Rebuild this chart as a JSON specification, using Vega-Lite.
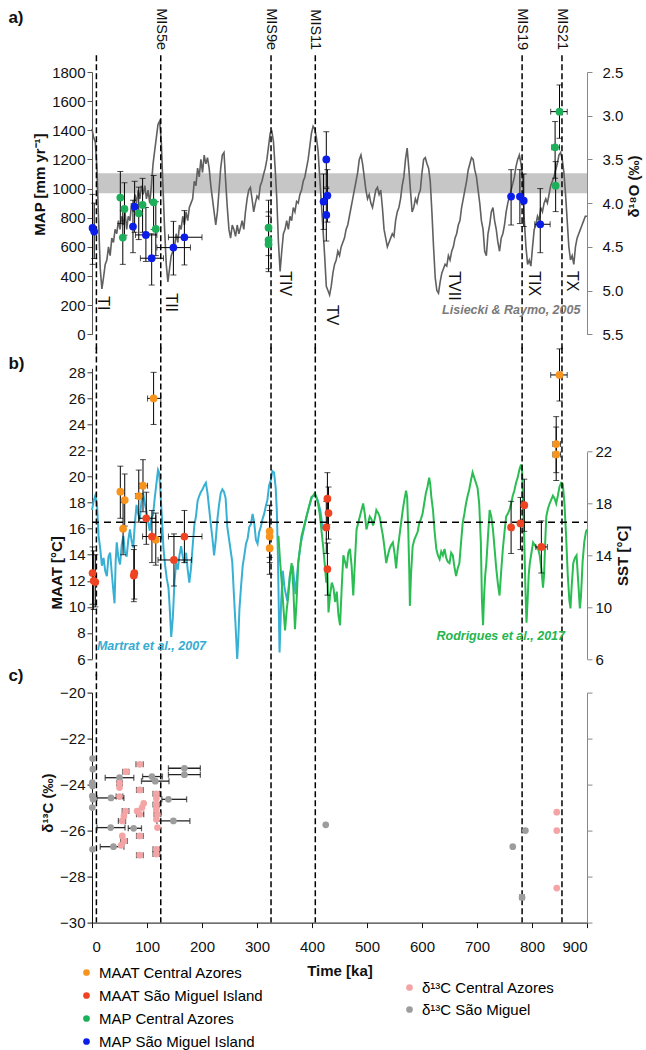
{
  "$schema": "https://vega.github.io/schema/vega-lite/v6.json",
  "padding": {"left": 8, "top": 8, "right": 5, "bottom": 5},
  "background": "white",
  "config": {
    "font": "Liberation Sans",
    "view": {"stroke": null},
    "axis": {"grid": false, "labelOverlap": false, "labelFontSize": 15, "labelColor": "#111", "titleFontSize": 15, "titleFontWeight": "bold", "titleColor": "#111", "domainColor": "#333", "tickColor": "#333", "tickSize": 5, "labelFont": "Liberation Sans", "titleFont": "Liberation Sans"},
    "text": {"font": "Liberation Sans"}
  },
  "datasets": {
    "one": [{"k": 1}],
    "terms": [{"ka": 8, "mis": ""}, {"ka": 125, "mis": "MIS5e"}, {"ka": 325.5, "mis": "MIS9e"}, {"ka": 406, "mis": "MIS11"}, {"ka": 782, "mis": "MIS19"}, {"ka": 854.5, "mis": "MIS21"}],
    "tlab": [{"ka": 19.6, "v": 261, "t": "TI"}, {"ka": 144, "v": 281, "t": "TII"}, {"ka": 351.5, "v": 432, "t": "TIV"}, {"ka": 436, "v": 201, "t": "TV"}, {"ka": 659, "v": 432, "t": "TVII"}, {"ka": 804, "v": 432, "t": "TIX"}, {"ka": 873, "v": 434, "t": "TX"}],
    "d18o": [
      {"ka":0,"d":3.15},{"ka":3,"d":3.25},{"ka":6,"d":3.3},{"ka":9,"d":3.6},{"ka":12,"d":4.2},{"ka":15,"d":4.75},{"ka":18,"d":4.98},{"ka":21,"d":4.85},{"ka":24,"d":4.7},{"ka":27,"d":4.65},
      {"ka":30,"d":4.5},{"ka":33,"d":4.6},{"ka":36,"d":4.4},{"ka":39,"d":4.45},{"ka":42,"d":4.3},{"ka":45,"d":4.35},{"ka":48,"d":4.2},{"ka":51,"d":4.3},{"ka":54,"d":4.15},{"ka":57,"d":4.25},
      {"ka":60,"d":4.1},{"ka":63,"d":4.3},{"ka":66,"d":4.15},{"ka":69,"d":4.2},{"ka":72,"d":4.0},{"ka":75,"d":4.1},{"ka":78,"d":3.9},{"ka":81,"d":4.0},{"ka":84,"d":3.85},{"ka":87,"d":3.95},
      {"ka":90,"d":3.8},{"ka":93,"d":3.9},{"ka":96,"d":3.8},{"ka":99,"d":3.95},{"ka":102,"d":3.85},{"ka":105,"d":4.0},{"ka":108,"d":3.8},{"ka":111,"d":3.55},{"ka":114,"d":3.4},{"ka":117,"d":3.25},
      {"ka":120,"d":3.1},{"ka":123,"d":3.06},{"ka":126,"d":3.3},{"ka":129,"d":3.8},{"ka":132,"d":4.3},{"ka":135,"d":4.7},{"ka":138,"d":4.9},{"ka":141,"d":4.75},{"ka":144,"d":4.6},{"ka":147,"d":4.55},
      {"ka":150,"d":4.5},{"ka":153,"d":4.35},{"ka":156,"d":4.45},{"ka":159,"d":4.25},{"ka":162,"d":4.3},{"ka":165,"d":4.15},{"ka":168,"d":4.25},{"ka":171,"d":4.1},{"ka":174,"d":4.2},{"ka":177,"d":4.05},
      {"ka":180,"d":4.0},{"ka":183,"d":3.95},{"ka":186,"d":3.75},{"ka":189,"d":3.8},{"ka":192,"d":3.6},{"ka":195,"d":3.7},{"ka":198,"d":3.5},{"ka":201,"d":3.65},{"ka":204,"d":3.45},{"ka":207,"d":3.55},
      {"ka":210,"d":3.48},{"ka":213,"d":3.6},{"ka":216,"d":3.8},{"ka":219,"d":3.95},{"ka":222,"d":4.1},{"ka":225,"d":4.25},{"ka":228,"d":4.1},{"ka":231,"d":3.85},{"ka":234,"d":3.6},{"ka":237,"d":3.45},
      {"ka":240,"d":3.42},{"ka":243,"d":3.75},{"ka":246,"d":4.05},{"ka":249,"d":4.3},{"ka":252,"d":4.4},{"ka":255,"d":4.25},{"ka":258,"d":4.3},{"ka":261,"d":4.38},{"ka":264,"d":4.25},{"ka":267,"d":4.35},
      {"ka":270,"d":4.28},{"ka":273,"d":4.2},{"ka":276,"d":4.3},{"ka":279,"d":4.1},{"ka":282,"d":3.95},{"ka":285,"d":3.85},{"ka":288,"d":3.82},{"ka":291,"d":3.95},{"ka":294,"d":4.1},{"ka":297,"d":4.0},
      {"ka":300,"d":3.92},{"ka":303,"d":3.95},{"ka":306,"d":3.8},{"ka":309,"d":3.75},{"ka":312,"d":3.67},{"ka":315,"d":3.6},{"ka":318,"d":3.5},{"ka":321,"d":3.35},{"ka":324,"d":3.2},{"ka":327,"d":3.18},
      {"ka":330,"d":3.3},{"ka":333,"d":3.6},{"ka":336,"d":3.95},{"ka":339,"d":4.45},{"ka":342,"d":4.78},{"ka":345,"d":4.55},{"ka":348,"d":4.35},{"ka":351,"d":4.3},{"ka":354,"d":4.2},{"ka":357,"d":4.3},
      {"ka":360,"d":4.15},{"ka":363,"d":4.2},{"ka":366,"d":4.05},{"ka":369,"d":4.1},{"ka":372,"d":3.98},{"ka":375,"d":4.0},{"ka":378,"d":3.9},{"ka":381,"d":3.85},{"ka":384,"d":3.75},{"ka":387,"d":3.7},
      {"ka":390,"d":3.6},{"ka":393,"d":3.5},{"ka":396,"d":3.35},{"ka":399,"d":3.2},{"ka":402,"d":3.12},{"ka":405,"d":3.15},{"ka":408,"d":3.25},{"ka":411,"d":3.4},{"ka":414,"d":3.7},{"ka":417,"d":4.0},
      {"ka":420,"d":4.3},{"ka":423,"d":4.6},{"ka":426,"d":4.95},{"ka":429,"d":5.0},{"ka":432,"d":5.05},{"ka":435,"d":4.95},{"ka":438,"d":4.8},{"ka":441,"d":4.7},{"ka":444,"d":4.65},{"ka":447,"d":4.55},
      {"ka":450,"d":4.6},{"ka":453,"d":4.5},{"ka":456,"d":4.45},{"ka":459,"d":4.4},{"ka":462,"d":4.3},{"ka":465,"d":4.25},{"ka":468,"d":4.15},{"ka":471,"d":4.05},{"ka":474,"d":3.95},{"ka":477,"d":3.85},
      {"ka":480,"d":3.75},{"ka":483,"d":3.65},{"ka":486,"d":3.5},{"ka":489,"d":3.45},{"ka":492,"d":3.55},{"ka":495,"d":3.7},{"ka":498,"d":3.85},{"ka":501,"d":3.95},{"ka":504,"d":3.9},{"ka":507,"d":4.0},
      {"ka":510,"d":4.05},{"ka":513,"d":3.95},{"ka":516,"d":3.85},{"ka":519,"d":3.82},{"ka":522,"d":3.9},{"ka":525,"d":3.85},{"ka":528,"d":4.05},{"ka":531,"d":4.3},{"ka":534,"d":4.4},{"ka":537,"d":4.5},
      {"ka":540,"d":4.45},{"ka":543,"d":4.4},{"ka":546,"d":4.35},{"ka":549,"d":4.38},{"ka":552,"d":4.2},{"ka":555,"d":4.1},{"ka":558,"d":4.05},{"ka":561,"d":3.95},{"ka":564,"d":3.8},{"ka":567,"d":3.7},
      {"ka":570,"d":3.5},{"ka":573,"d":3.37},{"ka":576,"d":3.6},{"ka":579,"d":3.85},{"ka":582,"d":4.1},{"ka":585,"d":4.05},{"ka":588,"d":3.95},{"ka":591,"d":4.0},{"ka":594,"d":3.9},{"ka":597,"d":3.85},
      {"ka":600,"d":3.65},{"ka":603,"d":3.5},{"ka":606,"d":3.48},{"ka":609,"d":3.55},{"ka":612,"d":3.6},{"ka":615,"d":3.75},{"ka":618,"d":4.1},{"ka":621,"d":4.5},{"ka":624,"d":4.85},{"ka":627,"d":5.0},
      {"ka":630,"d":5.03},{"ka":633,"d":4.9},{"ka":636,"d":4.8},{"ka":639,"d":4.75},{"ka":642,"d":4.7},{"ka":645,"d":4.72},{"ka":648,"d":4.6},{"ka":651,"d":4.65},{"ka":654,"d":4.55},{"ka":657,"d":4.5},
      {"ka":660,"d":4.4},{"ka":663,"d":4.35},{"ka":666,"d":4.25},{"ka":669,"d":4.2},{"ka":672,"d":4.05},{"ka":675,"d":3.95},{"ka":678,"d":3.85},{"ka":681,"d":3.75},{"ka":684,"d":3.62},{"ka":687,"d":3.55},
      {"ka":690,"d":3.48},{"ka":693,"d":3.5},{"ka":696,"d":3.62},{"ka":699,"d":3.7},{"ka":702,"d":3.85},{"ka":705,"d":4.0},{"ka":708,"d":4.2},{"ka":711,"d":4.3},{"ka":714,"d":4.55},{"ka":717,"d":4.6},
      {"ka":720,"d":4.35},{"ka":723,"d":4.25},{"ka":726,"d":4.1},{"ka":729,"d":4.05},{"ka":732,"d":4.2},{"ka":735,"d":4.3},{"ka":738,"d":4.45},{"ka":741,"d":4.55},{"ka":744,"d":4.4},{"ka":747,"d":4.35},
      {"ka":750,"d":4.25},{"ka":753,"d":4.1},{"ka":756,"d":4.0},{"ka":759,"d":3.92},{"ka":762,"d":3.85},{"ka":765,"d":3.78},{"ka":768,"d":3.7},{"ka":771,"d":3.58},{"ka":774,"d":3.5},{"ka":777,"d":3.45},
      {"ka":780,"d":3.55},{"ka":783,"d":3.7},{"ka":786,"d":4.2},{"ka":789,"d":4.5},{"ka":792,"d":4.7},{"ka":795,"d":4.65},{"ka":798,"d":4.72},{"ka":801,"d":4.5},{"ka":804,"d":4.3},{"ka":807,"d":4.25},
      {"ka":810,"d":4.15},{"ka":813,"d":4.2},{"ka":816,"d":4.05},{"ka":819,"d":4.1},{"ka":822,"d":4.0},{"ka":825,"d":3.95},{"ka":828,"d":4.0},{"ka":831,"d":3.9},{"ka":834,"d":3.8},{"ka":837,"d":3.75},
      {"ka":840,"d":3.7},{"ka":843,"d":3.62},{"ka":846,"d":3.55},{"ka":849,"d":3.45},{"ka":852,"d":3.42},{"ka":855,"d":3.5},{"ka":858,"d":3.65},{"ka":861,"d":3.9},{"ka":864,"d":4.2},{"ka":867,"d":4.5},
      {"ka":870,"d":4.65},{"ka":873,"d":4.6},{"ka":876,"d":4.7},{"ka":879,"d":4.5},{"ka":882,"d":4.4},{"ka":885,"d":4.35},{"ka":888,"d":4.3},{"ka":891,"d":4.25},{"ka":894,"d":4.2},{"ka":897,"d":4.15},{"ka":900,"d":4.15}
    ],
    "martrat": [
      {"ka":0,"t":17.5},{"ka":3,"t":18.2},{"ka":6,"t":18.6},{"ka":9,"t":18.0},{"ka":12,"t":15.5},{"ka":15,"t":14.5},{"ka":18,"t":13.2},{"ka":21,"t":13.8},{"ka":24,"t":12.8},{"ka":27,"t":12.4},
      {"ka":30,"t":13.9},{"ka":33,"t":14.2},{"ka":36,"t":12.6},{"ka":39,"t":11.2},{"ka":41,"t":10.3},{"ka":43,"t":13.5},{"ka":45,"t":15.0},{"ka":48,"t":13.8},{"ka":51,"t":13.3},{"ka":54,"t":14.8},
      {"ka":57,"t":15.5},{"ka":60,"t":14.2},{"ka":63,"t":13.9},{"ka":66,"t":15.2},{"ka":69,"t":16.0},{"ka":72,"t":15.1},{"ka":75,"t":14.6},{"ka":78,"t":16.5},{"ka":81,"t":17.9},{"ka":84,"t":17.2},
      {"ka":87,"t":16.8},{"ka":90,"t":18.2},{"ka":93,"t":18.8},{"ka":96,"t":18.0},{"ka":99,"t":17.4},{"ka":102,"t":16.6},{"ka":105,"t":15.9},{"ka":108,"t":16.9},{"ka":111,"t":17.1},{"ka":114,"t":18.4},
      {"ka":117,"t":19.5},{"ka":120,"t":20.6},{"ka":122,"t":20.4},{"ka":124,"t":19.2},{"ka":127,"t":17.0},{"ka":130,"t":14.5},{"ka":133,"t":13.2},{"ka":136,"t":12.2},{"ka":139,"t":11.5},{"ka":141,"t":10.2},
      {"ka":144,"t":7.7},{"ka":147,"t":9.2},{"ka":150,"t":12.0},{"ka":153,"t":13.4},{"ka":156,"t":12.9},{"ka":159,"t":14.0},{"ka":162,"t":14.7},{"ka":165,"t":13.9},{"ka":168,"t":13.4},{"ka":171,"t":14.2},
      {"ka":174,"t":12.9},{"ka":177,"t":11.9},{"ka":180,"t":13.0},{"ka":183,"t":14.7},{"ka":186,"t":16.3},{"ka":189,"t":17.0},{"ka":192,"t":18.2},{"ka":195,"t":18.6},{"ka":198,"t":18.9},{"ka":201,"t":19.1},
      {"ka":204,"t":19.4},{"ka":207,"t":19.6},{"ka":210,"t":18.8},{"ka":213,"t":17.6},{"ka":216,"t":16.4},{"ka":219,"t":15.3},{"ka":222,"t":14.0},{"ka":225,"t":15.2},{"ka":228,"t":16.8},{"ka":231,"t":17.9},
      {"ka":234,"t":18.8},{"ka":237,"t":19.1},{"ka":240,"t":18.9},{"ka":243,"t":18.4},{"ka":246,"t":16.2},{"ka":249,"t":15.3},{"ka":252,"t":14.4},{"ka":255,"t":13.5},{"ka":258,"t":11.0},{"ka":261,"t":8.6},
      {"ka":264,"t":6.0},{"ka":266,"t":7.5},{"ka":268,"t":9.8},{"ka":271,"t":11.6},{"ka":274,"t":13.2},{"ka":277,"t":14.0},{"ka":280,"t":14.9},{"ka":283,"t":15.3},{"ka":286,"t":16.2},{"ka":289,"t":16.4},
      {"ka":292,"t":17.2},{"ka":295,"t":16.5},{"ka":298,"t":15.2},{"ka":301,"t":14.9},{"ka":304,"t":15.8},{"ka":307,"t":16.2},{"ka":310,"t":16.8},{"ka":313,"t":17.2},{"ka":316,"t":17.8},{"ka":319,"t":18.3},
      {"ka":322,"t":19.4},{"ka":325,"t":19.8},{"ka":328,"t":20.5},{"ka":331,"t":20.4},{"ka":334,"t":19.2},{"ka":336,"t":17.5},{"ka":338,"t":14.0},{"ka":341,"t":6.5},{"ka":344,"t":10.5},{"ka":347,"t":12.8},
      {"ka":350,"t":11.5},{"ka":355,"t":10.5},{"ka":360,"t":12.5},{"ka":365,"t":13.2},{"ka":370,"t":11.0},{"ka":375,"t":13.5},{"ka":380,"t":15.0},{"ka":385,"t":16.0},{"ka":390,"t":17.0},{"ka":395,"t":17.8},
      {"ka":400,"t":18.5},{"ka":405,"t":18.7},{"ka":410,"t":18.3},{"ka":415,"t":17.5},{"ka":420,"t":16.0}
    ],
    "rodrigues": [
      {"ka":339,"t":15.5},{"ka":342,"t":13.5},{"ka":345,"t":11.9},{"ka":348,"t":10.0},{"ka":351,"t":8.2},{"ka":354,"t":9.8},{"ka":357,"t":10.9},{"ka":360,"t":12.5},{"ka":363,"t":13.4},{"ka":366,"t":11.5},
      {"ka":369,"t":8.3},{"ka":372,"t":10.5},{"ka":375,"t":13.4},{"ka":378,"t":14.5},{"ka":381,"t":15.5},{"ka":384,"t":16.0},{"ka":387,"t":16.5},{"ka":390,"t":17.0},{"ka":393,"t":17.5},{"ka":396,"t":18.0},
      {"ka":399,"t":18.5},{"ka":402,"t":18.6},{"ka":405,"t":18.8},{"ka":408,"t":18.5},{"ka":411,"t":18.0},{"ka":414,"t":17.2},{"ka":417,"t":16.0},{"ka":420,"t":14.8},{"ka":423,"t":13.4},{"ka":426,"t":11.9},
      {"ka":428,"t":12.8},{"ka":430,"t":9.6},{"ka":433,"t":11.0},{"ka":436,"t":11.9},{"ka":439,"t":11.5},{"ka":442,"t":10.4},{"ka":445,"t":11.2},{"ka":448,"t":9.4},{"ka":451,"t":8.6},{"ka":454,"t":11.5},
      {"ka":457,"t":14.0},{"ka":460,"t":13.5},{"ka":463,"t":13.0},{"ka":466,"t":14.2},{"ka":469,"t":14.5},{"ka":472,"t":13.2},{"ka":475,"t":10.9},{"ka":478,"t":13.5},{"ka":481,"t":16.0},{"ka":484,"t":16.5},
      {"ka":487,"t":17.0},{"ka":490,"t":17.5},{"ka":493,"t":18.0},{"ka":496,"t":17.2},{"ka":499,"t":16.0},{"ka":502,"t":16.5},{"ka":505,"t":17.0},{"ka":508,"t":16.8},{"ka":511,"t":16.3},{"ka":514,"t":16.8},
      {"ka":517,"t":17.5},{"ka":520,"t":17.3},{"ka":523,"t":17.0},{"ka":526,"t":16.2},{"ka":529,"t":15.5},{"ka":532,"t":14.5},{"ka":535,"t":13.4},{"ka":538,"t":14.0},{"ka":541,"t":14.5},{"ka":544,"t":14.8},
      {"ka":547,"t":15.0},{"ka":550,"t":14.2},{"ka":553,"t":13.0},{"ka":556,"t":14.5},{"ka":559,"t":15.5},{"ka":562,"t":16.5},{"ka":565,"t":17.5},{"ka":568,"t":18.3},{"ka":571,"t":19.0},{"ka":573,"t":18.5},
      {"ka":575,"t":16.0},{"ka":577,"t":12.5},{"ka":578,"t":10.1},{"ka":580,"t":12.5},{"ka":583,"t":14.7},{"ka":586,"t":15.2},{"ka":589,"t":15.5},{"ka":592,"t":15.8},{"ka":595,"t":16.5},{"ka":598,"t":16.8},
      {"ka":601,"t":17.2},{"ka":604,"t":18.0},{"ka":607,"t":18.8},{"ka":610,"t":19.3},{"ka":613,"t":20.0},{"ka":615,"t":19.5},{"ka":617,"t":18.5},{"ka":620,"t":17.5},{"ka":623,"t":15.8},{"ka":626,"t":14.5},
      {"ka":629,"t":14.0},{"ka":632,"t":13.7},{"ka":635,"t":14.3},{"ka":638,"t":14.0},{"ka":641,"t":14.5},{"ka":644,"t":13.8},{"ka":647,"t":13.5},{"ka":650,"t":13.4},{"ka":653,"t":14.2},{"ka":656,"t":14.0},
      {"ka":659,"t":13.1},{"ka":662,"t":12.4},{"ka":665,"t":13.0},{"ka":668,"t":13.4},{"ka":671,"t":15.0},{"ka":674,"t":16.5},{"ka":677,"t":17.2},{"ka":680,"t":18.0},{"ka":683,"t":18.6},{"ka":686,"t":19.1},
      {"ka":689,"t":19.8},{"ka":692,"t":20.4},{"ka":695,"t":20.0},{"ka":698,"t":19.6},{"ka":701,"t":19.2},{"ka":704,"t":18.0},{"ka":707,"t":15.0},{"ka":709,"t":10.5},{"ka":711,"t":8.6},{"ka":713,"t":11.0},
      {"ka":715,"t":12.5},{"ka":717,"t":13.4},{"ka":720,"t":15.5},{"ka":723,"t":17.5},{"ka":726,"t":17.0},{"ka":729,"t":16.0},{"ka":732,"t":14.5},{"ka":735,"t":13.0},{"ka":738,"t":11.8},{"ka":741,"t":10.9},
      {"ka":744,"t":12.8},{"ka":747,"t":14.5},{"ka":750,"t":15.8},{"ka":753,"t":17.0},{"ka":756,"t":17.2},{"ka":759,"t":17.5},{"ka":762,"t":18.0},{"ka":765,"t":18.6},{"ka":768,"t":19.0},{"ka":771,"t":19.6},
      {"ka":774,"t":20.0},{"ka":777,"t":20.6},{"ka":780,"t":21.0},{"ka":782,"t":20.5},{"ka":784,"t":18.0},{"ka":786,"t":15.0},{"ka":788,"t":11.5},{"ka":790,"t":8.8},{"ka":792,"t":10.5},{"ka":794,"t":12.5},
      {"ka":796,"t":13.4},{"ka":799,"t":14.2},{"ka":802,"t":15.0},{"ka":805,"t":14.8},{"ka":808,"t":14.6},{"ka":811,"t":14.5},{"ka":814,"t":14.0},{"ka":817,"t":13.0},{"ka":820,"t":11.5},{"ka":822,"t":12.5},
      {"ka":824,"t":15.0},{"ka":826,"t":17.0},{"ka":829,"t":17.6},{"ka":832,"t":18.0},{"ka":835,"t":18.3},{"ka":838,"t":18.6},{"ka":841,"t":18.4},{"ka":844,"t":18.0},{"ka":847,"t":18.6},{"ka":850,"t":19.3},
      {"ka":853,"t":19.6},{"ka":856,"t":19.5},{"ka":859,"t":18.0},{"ka":862,"t":15.5},{"ka":865,"t":12.5},{"ka":868,"t":10.5},{"ka":870,"t":9.9},{"ka":872,"t":11.5},{"ka":875,"t":13.4},{"ka":878,"t":13.8},
      {"ka":881,"t":14.0},{"ka":884,"t":12.0},{"ka":887,"t":9.9},{"ka":889,"t":10.8},{"ka":892,"t":13.5},{"ka":895,"t":15.0},{"ka":898,"t":15.8},{"ka":900,"t":16.0}
    ],
    "map": [
      {"s":"MAP São Miguel Island","ka":1,"v":730,"lo":480,"hi":960,"xlo":null,"xhi":null},
      {"s":"MAP São Miguel Island","ka":4,"v":705,"lo":520,"hi":900,"xlo":null,"xhi":null},
      {"s":"MAP São Miguel Island","ka":77.5,"v":876,"lo":700,"hi":1050,"xlo":null,"xhi":null},
      {"s":"MAP São Miguel Island","ka":74.5,"v":739,"lo":560,"hi":920,"xlo":null,"xhi":null},
      {"s":"MAP São Miguel Island","ka":98,"v":682,"lo":500,"hi":870,"xlo":79,"xhi":118},
      {"s":"MAP São Miguel Island","ka":108.5,"v":522,"lo":338,"hi":690,"xlo":88,"xhi":130},
      {"s":"MAP São Miguel Island","ka":148,"v":595,"lo":407,"hi":775,"xlo":118,"xhi":179},
      {"s":"MAP São Miguel Island","ka":168,"v":666,"lo":476,"hi":849,"xlo":139,"xhi":200},
      {"s":"MAP São Miguel Island","ka":421,"v":911,"lo":720,"hi":1100,"xlo":null,"xhi":null},
      {"s":"MAP São Miguel Island","ka":426,"v":1200,"lo":1010,"hi":1390,"xlo":null,"xhi":null},
      {"s":"MAP São Miguel Island","ka":428,"v":952,"lo":770,"hi":1130,"xlo":null,"xhi":null},
      {"s":"MAP São Miguel Island","ka":426,"v":819,"lo":640,"hi":1000,"xlo":null,"xhi":null},
      {"s":"MAP São Miguel Island","ka":762,"v":945,"lo":750,"hi":1130,"xlo":null,"xhi":null},
      {"s":"MAP São Miguel Island","ka":778,"v":945,"lo":760,"hi":1130,"xlo":null,"xhi":null},
      {"s":"MAP São Miguel Island","ka":785,"v":917,"lo":740,"hi":1100,"xlo":null,"xhi":null},
      {"s":"MAP São Miguel Island","ka":815,"v":755,"lo":560,"hi":1000,"xlo":805,"xhi":833},
      {"s":"MAP Central Azores","ka":51.5,"v":938,"lo":760,"hi":1117,"xlo":null,"xhi":null},
      {"s":"MAP Central Azores","ka":59,"v":860,"lo":680,"hi":1040,"xlo":null,"xhi":null},
      {"s":"MAP Central Azores","ka":56,"v":664,"lo":480,"hi":850,"xlo":null,"xhi":null},
      {"s":"MAP Central Azores","ka":92,"v":888,"lo":700,"hi":1070,"xlo":null,"xhi":null},
      {"s":"MAP Central Azores","ka":85,"v":830,"lo":650,"hi":1010,"xlo":null,"xhi":null},
      {"s":"MAP Central Azores","ka":112,"v":906,"lo":720,"hi":1090,"xlo":null,"xhi":null},
      {"s":"MAP Central Azores","ka":116,"v":723,"lo":540,"hi":910,"xlo":null,"xhi":null},
      {"s":"MAP Central Azores","ka":321,"v":732,"lo":540,"hi":920,"xlo":null,"xhi":null},
      {"s":"MAP Central Azores","ka":321,"v":647,"lo":450,"hi":840,"xlo":null,"xhi":null},
      {"s":"MAP Central Azores","ka":321,"v":618,"lo":430,"hi":810,"xlo":null,"xhi":null},
      {"s":"MAP Central Azores","ka":850,"v":1528,"lo":1345,"hi":1711,"xlo":834,"xhi":864},
      {"s":"MAP Central Azores","ka":842,"v":1283,"lo":1071,"hi":1460,"xlo":836,"xhi":850},
      {"s":"MAP Central Azores","ka":843,"v":1020,"lo":842,"hi":1185,"xlo":null,"xhi":null}
    ],
    "maat": [
      {"s":"MAAT Central Azores","ka":112,"v":26.0,"lo":24.0,"hi":28.0,"xlo":101,"xhi":125},
      {"s":"MAAT Central Azores","ka":51.5,"v":18.84,"lo":16.8,"hi":20.8,"xlo":null,"xhi":null},
      {"s":"MAAT Central Azores","ka":59.5,"v":18.2,"lo":16.2,"hi":20.2,"xlo":null,"xhi":null},
      {"s":"MAAT Central Azores","ka":56.5,"v":16.0,"lo":14.0,"hi":18.0,"xlo":null,"xhi":null},
      {"s":"MAAT Central Azores","ka":85,"v":18.5,"lo":16.5,"hi":20.5,"xlo":79,"xhi":91},
      {"s":"MAAT Central Azores","ka":92.7,"v":19.3,"lo":17.3,"hi":21.3,"xlo":86,"xhi":101},
      {"s":"MAAT Central Azores","ka":116,"v":15.16,"lo":13.2,"hi":17.2,"xlo":null,"xhi":null},
      {"s":"MAAT Central Azores","ka":323,"v":15.8,"lo":13.8,"hi":17.8,"xlo":null,"xhi":null},
      {"s":"MAAT Central Azores","ka":323,"v":15.4,"lo":13.4,"hi":17.4,"xlo":null,"xhi":null},
      {"s":"MAAT Central Azores","ka":323,"v":14.5,"lo":12.5,"hi":16.5,"xlo":null,"xhi":null},
      {"s":"MAAT Central Azores","ka":850,"v":27.8,"lo":25.8,"hi":29.8,"xlo":834,"xhi":864},
      {"s":"MAAT Central Azores","ka":844,"v":22.5,"lo":20.3,"hi":24.6,"xlo":838,"xhi":852},
      {"s":"MAAT Central Azores","ka":844,"v":21.7,"lo":19.7,"hi":23.8,"xlo":838,"xhi":852},
      {"s":"MAAT São Miguel Island","ka":1,"v":12.6,"lo":10.2,"hi":14.6,"xlo":null,"xhi":null},
      {"s":"MAAT São Miguel Island","ka":3,"v":12.0,"lo":9.8,"hi":14.3,"xlo":null,"xhi":null},
      {"s":"MAAT São Miguel Island","ka":6,"v":11.9,"lo":10.0,"hi":14.0,"xlo":null,"xhi":null},
      {"s":"MAAT São Miguel Island","ka":77,"v":12.6,"lo":10.6,"hi":14.7,"xlo":null,"xhi":null},
      {"s":"MAAT São Miguel Island","ka":76,"v":12.4,"lo":10.4,"hi":14.4,"xlo":null,"xhi":null},
      {"s":"MAAT São Miguel Island","ka":98.7,"v":16.8,"lo":14.8,"hi":18.8,"xlo":86,"xhi":116},
      {"s":"MAAT São Miguel Island","ka":109,"v":15.4,"lo":13.4,"hi":17.4,"xlo":92,"xhi":126},
      {"s":"MAAT São Miguel Island","ka":149,"v":13.6,"lo":11.6,"hi":15.6,"xlo":120,"xhi":181},
      {"s":"MAAT São Miguel Island","ka":168,"v":15.4,"lo":13.4,"hi":17.4,"xlo":139,"xhi":200},
      {"s":"MAAT São Miguel Island","ka":428,"v":18.3,"lo":16.3,"hi":20.3,"xlo":null,"xhi":null},
      {"s":"MAAT São Miguel Island","ka":430,"v":17.2,"lo":15.2,"hi":19.2,"xlo":null,"xhi":null},
      {"s":"MAAT São Miguel Island","ka":426,"v":16.1,"lo":14.1,"hi":18.1,"xlo":null,"xhi":null},
      {"s":"MAAT São Miguel Island","ka":428,"v":12.9,"lo":10.9,"hi":14.9,"xlo":null,"xhi":null},
      {"s":"MAAT São Miguel Island","ka":762,"v":16.1,"lo":14.1,"hi":18.1,"xlo":null,"xhi":null},
      {"s":"MAAT São Miguel Island","ka":779,"v":16.4,"lo":14.4,"hi":18.4,"xlo":null,"xhi":null},
      {"s":"MAAT São Miguel Island","ka":786,"v":17.8,"lo":15.8,"hi":19.8,"xlo":null,"xhi":null},
      {"s":"MAAT São Miguel Island","ka":817,"v":14.6,"lo":12.6,"hi":16.6,"xlo":807,"xhi":828}
    ],
    "d13c": [
      {"s":"δ¹³C São Miguel","ka":1,"v":-22.87,"xlo":null,"xhi":null},
      {"s":"δ¹³C São Miguel","ka":1.5,"v":-23.33,"xlo":null,"xhi":null},
      {"s":"δ¹³C São Miguel","ka":0.5,"v":-23.91,"xlo":null,"xhi":null},
      {"s":"δ¹³C São Miguel","ka":1,"v":-24.06,"xlo":null,"xhi":null},
      {"s":"δ¹³C São Miguel","ka":0.5,"v":-24.5,"xlo":null,"xhi":null},
      {"s":"δ¹³C São Miguel","ka":2,"v":-24.64,"xlo":null,"xhi":null},
      {"s":"δ¹³C São Miguel","ka":0.5,"v":-25.0,"xlo":null,"xhi":null},
      {"s":"δ¹³C São Miguel","ka":1,"v":-26.81,"xlo":null,"xhi":null},
      {"s":"δ¹³C São Miguel","ka":50,"v":-23.7,"xlo":24,"xhi":76},
      {"s":"δ¹³C São Miguel","ka":34.5,"v":-24.58,"xlo":9,"xhi":58},
      {"s":"δ¹³C São Miguel","ka":34,"v":-25.87,"xlo":9,"xhi":60},
      {"s":"δ¹³C São Miguel","ka":39,"v":-26.7,"xlo":15,"xhi":58},
      {"s":"δ¹³C São Miguel","ka":75.7,"v":-25.9,"xlo":66,"xhi":90},
      {"s":"δ¹³C São Miguel","ka":109,"v":-23.65,"xlo":92,"xhi":128},
      {"s":"δ¹³C São Miguel","ka":115,"v":-23.85,"xlo":90,"xhi":140},
      {"s":"δ¹³C São Miguel","ka":139,"v":-24.64,"xlo":127,"xhi":172},
      {"s":"δ¹³C São Miguel","ka":148,"v":-25.58,"xlo":118,"xhi":178},
      {"s":"δ¹³C São Miguel","ka":168,"v":-23.29,"xlo":139,"xhi":197},
      {"s":"δ¹³C São Miguel","ka":168,"v":-23.57,"xlo":139,"xhi":197},
      {"s":"δ¹³C São Miguel","ka":425,"v":-25.75,"xlo":null,"xhi":null},
      {"s":"δ¹³C São Miguel","ka":765,"v":-26.7,"xlo":null,"xhi":null},
      {"s":"δ¹³C São Miguel","ka":788,"v":-26.0,"xlo":null,"xhi":null},
      {"s":"δ¹³C São Miguel","ka":782,"v":-28.9,"xlo":778,"xhi":786},
      {"s":"δ¹³C Central Azores","ka":86.7,"v":-23.12,"xlo":80,"xhi":93},
      {"s":"δ¹³C Central Azores","ka":61.8,"v":-23.44,"xlo":56,"xhi":67},
      {"s":"δ¹³C Central Azores","ka":50,"v":-23.94,"xlo":45,"xhi":55},
      {"s":"δ¹³C Central Azores","ka":50,"v":-24.13,"xlo":null,"xhi":null},
      {"s":"δ¹³C Central Azores","ka":50,"v":-24.52,"xlo":44,"xhi":56},
      {"s":"δ¹³C Central Azores","ka":86.7,"v":-24.23,"xlo":81,"xhi":93},
      {"s":"δ¹³C Central Azores","ka":94,"v":-24.81,"xlo":null,"xhi":null},
      {"s":"δ¹³C Central Azores","ka":91,"v":-25.0,"xlo":null,"xhi":null},
      {"s":"δ¹³C Central Azores","ka":87,"v":-25.29,"xlo":81,"xhi":94},
      {"s":"δ¹³C Central Azores","ka":82,"v":-25.15,"xlo":null,"xhi":null},
      {"s":"δ¹³C Central Azores","ka":61,"v":-25.15,"xlo":55,"xhi":67},
      {"s":"δ¹³C Central Azores","ka":58,"v":-25.36,"xlo":null,"xhi":null},
      {"s":"δ¹³C Central Azores","ka":55,"v":-25.58,"xlo":48,"xhi":61},
      {"s":"δ¹³C Central Azores","ka":55,"v":-26.23,"xlo":null,"xhi":null},
      {"s":"δ¹³C Central Azores","ka":58,"v":-26.45,"xlo":52,"xhi":64},
      {"s":"δ¹³C Central Azores","ka":53,"v":-26.64,"xlo":null,"xhi":null},
      {"s":"δ¹³C Central Azores","ka":86.7,"v":-26.23,"xlo":81,"xhi":93},
      {"s":"δ¹³C Central Azores","ka":86.7,"v":-27.07,"xlo":81,"xhi":93},
      {"s":"δ¹³C Central Azores","ka":117,"v":-24.4,"xlo":111,"xhi":123},
      {"s":"δ¹³C Central Azores","ka":117,"v":-24.6,"xlo":null,"xhi":null},
      {"s":"δ¹³C Central Azores","ka":117,"v":-24.86,"xlo":111,"xhi":123},
      {"s":"δ¹³C Central Azores","ka":117,"v":-25.07,"xlo":null,"xhi":null},
      {"s":"δ¹³C Central Azores","ka":119,"v":-25.29,"xlo":113,"xhi":125},
      {"s":"δ¹³C Central Azores","ka":117,"v":-25.51,"xlo":null,"xhi":null},
      {"s":"δ¹³C Central Azores","ka":119,"v":-25.87,"xlo":null,"xhi":null},
      {"s":"δ¹³C Central Azores","ka":117,"v":-26.81,"xlo":111,"xhi":123},
      {"s":"δ¹³C Central Azores","ka":117,"v":-27.02,"xlo":111,"xhi":123},
      {"s":"δ¹³C Central Azores","ka":845,"v":-25.2,"xlo":null,"xhi":null},
      {"s":"δ¹³C Central Azores","ka":845,"v":-26.0,"xlo":null,"xhi":null},
      {"s":"δ¹³C Central Azores","ka":845,"v":-28.5,"xlo":null,"xhi":null}
    ]
  },
  "spacing": 33.3,
  "bounds": "flush",
  "vconcat": [
    {
      "width": 495,
      "height": 262.3,
      "resolve": {"scale": {"y": "independent"}},
      "layer": [
        {
          "data": {"name": "one"},
          "mark": {"type": "rect", "color": "#c6c6c6"},
          "encoding": {
            "x": {"datum": 8, "type": "quantitative", "scale": {"domain": [0, 900]}, "axis": null},
            "x2": {"datum": 900},
            "y": {"datum": 968, "type": "quantitative", "scale": {"domain": [0, 1800], "nice": false, "zero": false},
              "axis": {"orient": "left", "values": [0, 200, 400, 600, 800, 1000, 1200, 1400, 1600, 1800], "format": "d", "labelOverlap": false, "title": "MAP [mm yr⁻¹]", "titleY": 112, "domainColor": "#555", "tickColor": "#555"}},
            "y2": {"datum": 1105}
          }
        },
        {
          "data": {"name": "d18o"},
          "mark": {"type": "line", "color": "#606060", "strokeWidth": 1.6},
          "encoding": {
            "x": {"field": "ka", "type": "quantitative", "scale": {"domain": [0, 900]}, "axis": null},
            "y": {"field": "d", "type": "quantitative", "scale": {"domain": [2.5, 5.5], "reverse": true, "nice": false, "zero": false},
              "axis": {"orient": "right", "values": [2.5, 3, 3.5, 4, 4.5, 5, 5.5], "format": ".1f", "labelOverlap": false, "title": "δ¹⁸O (‰)", "titleAngle": 270, "titleBaseline": "top", "titleY": 114, "titlePadding": 4, "labelPadding": 10, "domainColor": "#888", "tickColor": "#888"}}
          }
        },
        {
          "layer": [
            {
              "data": {"name": "terms"},
              "mark": {"type": "rule", "color": "black", "strokeWidth": 1.5, "strokeDash": [6, 3]},
              "encoding": {
                "x": {"field": "ka", "type": "quantitative", "scale": {"domain": [0, 900]}, "axis": null},
                "y": {"datum": 1915, "type": "quantitative", "scale": {"domain": [0, 1800], "nice": false, "zero": false}, "axis": null},
                "y2": {"datum": -130}
              }
            },
            {
              "data": {"name": "terms"},
              "transform": [{"filter": "datum.mis != ''"}],
              "mark": {"type": "text", "angle": 90, "align": "right", "baseline": "middle", "fontSize": 14.5, "color": "#111"},
              "encoding": {
                "x": {"field": "ka", "type": "quantitative", "axis": null},
                "y": {"datum": 1950, "type": "quantitative", "axis": null},
                "text": {"field": "mis"}
              }
            },
            {
              "data": {"name": "tlab"},
              "mark": {"type": "text", "angle": 90, "align": "left", "baseline": "middle", "fontSize": 16, "color": "#111"},
              "encoding": {
                "x": {"field": "ka", "type": "quantitative", "axis": null},
                "y": {"field": "v", "type": "quantitative", "axis": null},
                "text": {"field": "t"}
              }
            },
            {
              "data": {"name": "one"},
              "mark": {"type": "text", "text": "Lisiecki & Raymo, 2005", "align": "right", "baseline": "alphabetic", "fontSize": 12.5, "fontStyle": "italic", "fontWeight": "bold", "color": "#7a7a7a"},
              "encoding": {
                "x": {"datum": 888, "type": "quantitative", "axis": null},
                "y": {"datum": 137, "type": "quantitative", "axis": null}
              }
            },
            {
              "data": {"name": "one"},
              "mark": {"type": "text", "text": "a)", "align": "left", "baseline": "middle", "fontSize": 17, "fontWeight": "bold", "color": "#111"},
              "encoding": {
                "x": {"datum": -152, "type": "quantitative", "axis": null},
                "y": {"datum": 2169, "type": "quantitative", "axis": null}
              }
            },
            {
              "data": {"name": "map"},
              "mark": {"type": "errorbar", "color": "black", "thickness": 1, "size": 6, "ticks": true},
              "encoding": {
                "x": {"field": "ka", "type": "quantitative", "axis": null},
                "y": {"field": "lo", "type": "quantitative", "axis": null},
                "y2": {"field": "hi"}
              }
            },
            {
              "data": {"name": "map"},
              "transform": [{"filter": "datum.xlo != null"}],
              "mark": {"type": "errorbar", "color": "black", "thickness": 1, "size": 6, "ticks": true},
              "encoding": {
                "y": {"field": "v", "type": "quantitative", "axis": null},
                "x": {"field": "xlo", "type": "quantitative", "axis": null},
                "x2": {"field": "xhi"}
              }
            },
            {
              "data": {"name": "map"},
              "mark": {"type": "circle", "size": 60, "opacity": 1},
              "encoding": {
                "x": {"field": "ka", "type": "quantitative", "axis": null},
                "y": {"field": "v", "type": "quantitative", "axis": null},
                "color": {"field": "s", "type": "nominal",
                  "scale": {"domain": ["MAAT Central Azores", "MAAT São Miguel Island", "MAP Central Azores", "MAP São Miguel Island"], "range": ["#f7941d", "#ef4423", "#1daf5a", "#0b1de8"]},
                  "legend": {"orient": "none", "legendX": -13, "legendY": 893, "title": null, "labelFontSize": 15, "labelLimit": 320, "labelFont": "Liberation Sans", "symbolType": "circle", "symbolSize": 45, "rowPadding": 7, "labelOffset": 5, "padding": 0, "symbolStrokeWidth": 0}}
              }
            }
          ]
        }
      ]
    },
    {
      "width": 495,
      "height": 290.7,
      "resolve": {"scale": {"y": "independent"}},
      "layer": [
        {
          "layer": [
            {
              "data": {"name": "martrat"},
              "mark": {"type": "line", "color": "#38b0d4", "strokeWidth": 2},
              "encoding": {
                "x": {"field": "ka", "type": "quantitative", "scale": {"domain": [0, 900]}, "axis": null},
                "y": {"field": "t", "type": "quantitative", "scale": {"domain": [6, 22], "range": [290.7, 83.4], "nice": false, "zero": false},
                  "axis": {"orient": "right", "values": [6, 8, 10, 12, 14, 16, 18, 20, 22], "labelOverlap": false, "title": "SST [°C]", "titleAngle": 270, "titleBaseline": "top", "titlePadding": 4, "labelPadding": 3, "domainColor": "#888", "tickColor": "#888"}}
              }
            },
            {
              "data": {"name": "rodrigues"},
              "mark": {"type": "line", "color": "#2bbd52", "strokeWidth": 2},
              "encoding": {
                "x": {"field": "ka", "type": "quantitative", "axis": null},
                "y": {"field": "t", "type": "quantitative", "title": "SST [°C]"}
              }
            }
          ]
        },
        {
          "data": {"name": "one"},
          "mark": {"type": "rule", "color": "black", "strokeWidth": 1.5, "strokeDash": [7, 5]},
          "encoding": {
            "x": {"datum": 0, "type": "quantitative", "scale": {"domain": [0, 900]}, "axis": null},
            "x2": {"datum": 900},
            "y": {"datum": 16.5, "type": "quantitative", "scale": {"domain": [6, 28.31], "nice": false, "zero": false},
              "axis": {"orient": "left", "values": [6, 8, 10, 12, 14, 16, 18, 20, 22, 24, 26, 28], "labelOverlap": false, "title": "MAAT [°C]", "titleY": 204}}
          }
        },
        {
          "layer": [
            {
              "data": {"name": "terms"},
              "mark": {"type": "rule", "color": "black", "strokeWidth": 1.5, "strokeDash": [6, 3]},
              "encoding": {
                "x": {"field": "ka", "type": "quantitative", "scale": {"domain": [0, 900]}, "axis": null},
                "y": {"datum": 29.9, "type": "quantitative", "scale": {"domain": [6, 28.31], "nice": false, "zero": false}, "axis": null},
                "y2": {"datum": 4.7}
              }
            },
            {
              "data": {"name": "one"},
              "mark": {"type": "text", "text": "Martrat et al., 2007", "align": "left", "baseline": "alphabetic", "fontSize": 12.5, "fontStyle": "italic", "fontWeight": "bold", "color": "#35acd2"},
              "encoding": {
                "x": {"datum": 9, "type": "quantitative", "axis": null},
                "y": {"datum": 6.69, "type": "quantitative", "axis": null}
              }
            },
            {
              "data": {"name": "one"},
              "mark": {"type": "text", "text": "Rodrigues et al., 2017", "align": "right", "baseline": "alphabetic", "fontSize": 12.5, "fontStyle": "italic", "fontWeight": "bold", "color": "#25b54d"},
              "encoding": {
                "x": {"datum": 860, "type": "quantitative", "axis": null},
                "y": {"datum": 7.46, "type": "quantitative", "axis": null}
              }
            },
            {
              "data": {"name": "one"},
              "mark": {"type": "text", "text": "b)", "align": "left", "baseline": "middle", "fontSize": 17, "fontWeight": "bold", "color": "#111"},
              "encoding": {
                "x": {"datum": -152, "type": "quantitative", "axis": null},
                "y": {"datum": 28.64, "type": "quantitative", "axis": null}
              }
            },
            {
              "data": {"name": "maat"},
              "mark": {"type": "errorbar", "color": "black", "thickness": 1, "size": 6, "ticks": true},
              "encoding": {
                "x": {"field": "ka", "type": "quantitative", "axis": null},
                "y": {"field": "lo", "type": "quantitative", "axis": null},
                "y2": {"field": "hi"}
              }
            },
            {
              "data": {"name": "maat"},
              "transform": [{"filter": "datum.xlo != null"}],
              "mark": {"type": "errorbar", "color": "black", "thickness": 1, "size": 6, "ticks": true},
              "encoding": {
                "y": {"field": "v", "type": "quantitative", "axis": null},
                "x": {"field": "xlo", "type": "quantitative", "axis": null},
                "x2": {"field": "xhi"}
              }
            },
            {
              "data": {"name": "maat"},
              "mark": {"type": "circle", "size": 60, "opacity": 1},
              "encoding": {
                "x": {"field": "ka", "type": "quantitative", "axis": null},
                "y": {"field": "v", "type": "quantitative", "axis": null},
                "color": {"field": "s", "type": "nominal",
                  "scale": {"domain": ["MAAT Central Azores", "MAAT São Miguel Island", "MAP Central Azores", "MAP São Miguel Island"], "range": ["#f7941d", "#ef4423", "#1daf5a", "#0b1de8"]},
                  "legend": {"orient": "none", "legendX": -13, "legendY": 893, "title": null, "labelFontSize": 15, "labelLimit": 320, "labelFont": "Liberation Sans", "symbolType": "circle", "symbolSize": 45, "rowPadding": 7, "labelOffset": 5, "padding": 0, "symbolStrokeWidth": 0}}
              }
            }
          ]
        }
      ]
    },
    {
      "width": 495,
      "height": 230,
      "resolve": {"scale": {"y": "independent"}},
      "layer": [
        {
          "data": {"name": "terms"},
          "mark": {"type": "rule", "color": "black", "strokeWidth": 1.5, "strokeDash": [6, 3]},
          "encoding": {
            "x": {"field": "ka", "type": "quantitative", "scale": {"domain": [0, 900]},
              "axis": {"values": [0, 100, 200, 300, 400, 500, 600, 700, 800, 900], "labelOverlap": false, "title": "Time [ka]", "labelPadding": 12, "titlePadding": 9, "domainColor": "#111", "tickColor": "#111"}},
            "y": {"datum": -19.2, "type": "quantitative", "scale": {"domain": [-30, -20], "nice": false, "zero": false},
              "axis": {"orient": "right", "values": [-30, -28, -26, -24, -22, -20], "labels": false, "title": null, "domainColor": "#888", "tickColor": "#888"}},
            "y2": {"datum": -30}
          }
        },
        {
          "layer": [
            {
              "data": {"name": "d13c"},
              "transform": [{"filter": "datum.xlo != null"}],
              "mark": {"type": "errorbar", "color": "#222", "thickness": 1.3, "size": 6, "ticks": true},
              "encoding": {
                "y": {"field": "v", "type": "quantitative", "scale": {"domain": [-30, -20], "nice": false, "zero": false}, "title": "δ¹³C (‰)",
                  "axis": {"orient": "left", "values": [-30, -28, -26, -24, -22, -20], "labelOverlap": false, "title": "δ¹³C (‰)", "titleY": 110, "domainColor": "#111", "tickColor": "#111"}},
                "x": {"field": "xlo", "type": "quantitative", "scale": {"domain": [0, 900]}, "title": "Time [ka]",
                  "axis": {"values": [0, 100, 200, 300, 400, 500, 600, 700, 800, 900], "labelOverlap": false, "title": "Time [ka]", "labelPadding": 12, "titlePadding": 9, "domainColor": "#111", "tickColor": "#111"}},
                "x2": {"field": "xhi"}
              }
            },
            {
              "data": {"name": "d13c"},
              "mark": {"type": "circle", "size": 45, "opacity": 1},
              "encoding": {
                "x": {"field": "ka", "type": "quantitative", "title": "Time [ka]"},
                "y": {"field": "v", "type": "quantitative", "title": "δ¹³C (‰)"},
                "fill": {"field": "s", "type": "nominal",
                  "scale": {"domain": ["δ¹³C Central Azores", "δ¹³C São Miguel"], "range": ["#f4a4a4", "#9d9d9d"]},
                  "legend": {"orient": "none", "legendX": 310, "legendY": 908, "title": null, "labelFontSize": 15, "labelLimit": 320, "labelFont": "Liberation Sans", "symbolType": "circle", "symbolSize": 45, "rowPadding": 6, "labelOffset": 5, "padding": 0, "symbolStrokeWidth": 0}}
              }
            },
            {
              "data": {"name": "one"},
              "mark": {"type": "text", "text": "c)", "align": "left", "baseline": "middle", "fontSize": 17, "fontWeight": "bold", "color": "#111"},
              "encoding": {
                "x": {"datum": -152, "type": "quantitative", "title": "Time [ka]"},
                "y": {"datum": -19.29, "type": "quantitative", "title": "δ¹³C (‰)"}
              }
            }
          ]
        }
      ]
    }
  ]
}
